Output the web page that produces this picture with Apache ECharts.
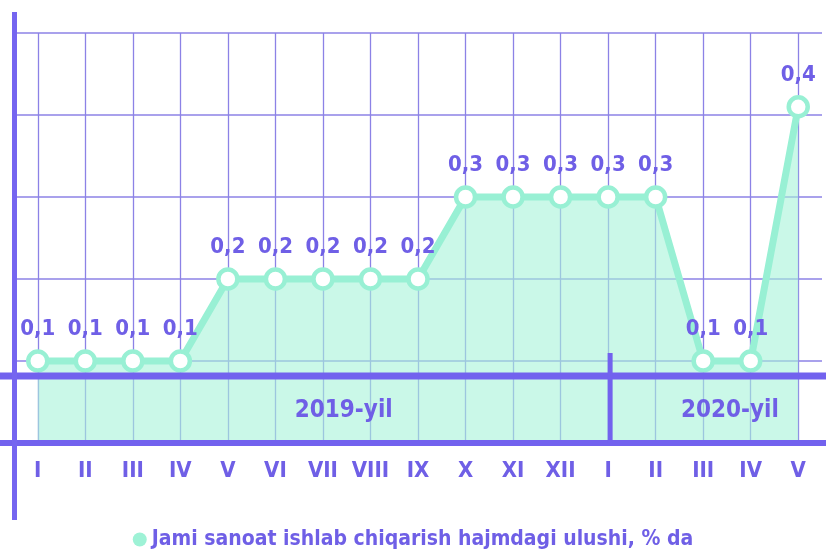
<!DOCTYPE html>
<html>
<head>
<meta charset="utf-8">
<script src="https://cdn.jsdelivr.net/npm/echarts@6/dist/echarts.min.js"></script>
<style>
html,body{margin:0;padding:0;background:#fff;}
#c{width:826px;height:551px;}
</style>
</head>
<body>
<div id="c"></div>
<script>
const categories = ['I','II','III','IV','V','VI','VII','VIII','IX','X','XI','XII','I','II','III','IV','V'];
const values = [0.1,0.1,0.1,0.1,0.2,0.2,0.2,0.2,0.2,0.3,0.3,0.3,0.3,0.3,0.1,0.1,0.41];
const seriesName = 'Jami sanoat ishlab chiqarish hajmdagi ulushi, % da';
const yearLabels = ['2019-yil','2020-yil'];
const yearStartIndex = [0, 12];

const FONT = '"DejaVu Sans Condensed","Liberation Sans Narrow",sans-serif';
const PURPLE = '#6f5fe6';
const GRID = '#8c82e6';
const MINT = '#98f0d4';

const chart = echarts.init(document.getElementById('c'), null, {renderer:'canvas'});
const option = {
  animation:false,
  backgroundColor:'#ffffff',
  grid:{left:14,right:4,top:33,bottom:108,containLabel:false},
  xAxis:{
    type:'category',
    data:categories,
    boundaryGap:true,
    axisLine:{show:false},
    axisTick:{show:false},
    axisLabel:{interval:0,color:PURPLE,fontFamily:FONT,fontWeight:'bold',fontSize:22,margin:17},
    splitLine:{show:true,alignWithLabel:true,lineStyle:{color:GRID,width:1.3}}
  },
  yAxis:{
    type:'value',min:0,max:0.5,interval:0.1,
    axisLine:{show:false},axisTick:{show:false},axisLabel:{show:false},
    splitLine:{show:true,lineStyle:{color:GRID,width:1.5}}
  },
  legend:{
    bottom:-4,left:'center',
    icon:'circle',itemWidth:14,itemHeight:14,itemGap:4,
    itemStyle:{color:'#9ef2d6',borderWidth:0},
    textStyle:{color:PURPLE,fontFamily:FONT,fontWeight:'bold',fontSize:21},
    data:[seriesName]
  },
  series:[{
    name:seriesName,
    type:'line',
    data:values,
    symbol:'circle',symbolSize:19,
    lineStyle:{color:MINT,width:7},
    itemStyle:{color:'#ffffff',borderColor:MINT,borderWidth:4.5},
    areaStyle:{color:'#a6f3d9',opacity:0.6},
    label:{show:true,position:'top',distance:9,color:PURPLE,fontFamily:FONT,fontWeight:'bold',fontSize:22,
      formatter:p=>p.value.toFixed(1).replace('.',',')},
    z:2
  }]
};
chart.setOption(option);

const y0 = chart.convertToPixel({yAxisIndex:0},0);
const xs = categories.map((c,i)=>chart.convertToPixel({xAxisIndex:0},i));
const band = xs[1]-xs[0];
const leftEdge = xs[0]-band/2;
const divX = xs[yearStartIndex[1]];
const bandY = 376;
const mid1 = (xs[6]+xs[7])/2 - 3;
const mid2 = (xs[14]+xs[15])/2 + 3;
chart.setOption({
  graphic:[
    {type:'line',z:10,shape:{x1:0,y1:bandY,x2:826,y2:bandY},style:{stroke:'#7262ee',lineWidth:7}},
    {type:'line',z:10,shape:{x1:0,y1:y0,x2:826,y2:y0},style:{stroke:'#7262ee',lineWidth:6}},
    {type:'line',z:10,shape:{x1:leftEdge+0.5,y1:12,x2:leftEdge+0.5,y2:520},style:{stroke:'#7565f0',lineWidth:5}},
    {type:'line',z:10,shape:{x1:divX+2,y1:353,x2:divX+2,y2:y0},style:{stroke:'#7262ee',lineWidth:5}},
    {type:'text',z:10,style:{text:yearLabels[0],x:mid1,y:(bandY+y0)/2+1,textAlign:'center',textVerticalAlign:'middle',fill:PURPLE,font:'bold 24px '+FONT}},
    {type:'text',z:10,style:{text:yearLabels[1],x:mid2,y:(bandY+y0)/2+1,textAlign:'center',textVerticalAlign:'middle',fill:PURPLE,font:'bold 24px '+FONT}}
  ]
});
</script>
</body>
</html>
